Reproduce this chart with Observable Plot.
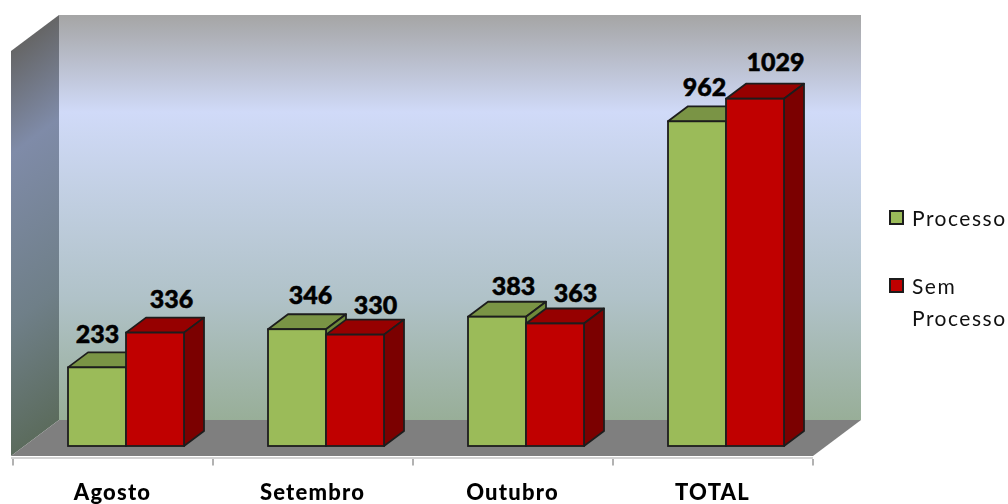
<!DOCTYPE html>
<html>
<head>
<meta charset="utf-8">
<script src="https://cdn.jsdelivr.net/npm/d3@7"></script>
<script src="https://cdn.jsdelivr.net/npm/@observablehq/plot@0.6"></script>
<style>
html,body{margin:0;padding:0;background:#fff;width:1008px;height:504px;overflow:hidden}
#chart{position:relative;width:1008px;height:504px}
#chart svg{display:block;filter:blur(.5px)}
#legend{position:absolute;left:888px;top:202px;font:21px/32px Lato,sans-serif;letter-spacing:1.5px;color:#111;filter:blur(.35px)}
.item{position:relative;padding-left:24px;margin-bottom:36px}
.sw{position:absolute;left:1px;top:8px;width:11px;height:11px;border:2px solid #1c1c1c}
</style>
</head>
<body>
<div id="chart"></div>
<script>
const months = ["Agosto", "Setembro", "Outubro", "TOTAL"];
const seriesNames = ["Processo", "Sem Processo"];
const processo = [233, 346, 383, 962];
const semProcesso = [336, 330, 363, 1029];
const axisMax = 1200;
const labelNudgeProcesso = [[0, -25], [13, -26], [16, -22], [7, -26]];
const labelNudgeSem = [[16, -25], [20, -21], [20, -22], [20, -28]];

const colors = {
  "Processo": {front: "#9bbb59", top: "#7a9445", side: "#6f8a3a"},
  "Sem Processo": {front: "#c00000", top: "#960000", side: "#7b0000"}
};
const rows = months.flatMap((month, i) => [
  {month, series: seriesNames[0], value: processo[i], nudge: labelNudgeProcesso[i]},
  {month, series: seriesNames[1], value: semProcesso[i], nudge: labelNudgeSem[i]}
]);

const SVGNS = "http://www.w3.org/2000/svg";
function el(name, attrs) {
  const n = document.createElementNS(SVGNS, name);
  for (const k in attrs) n.setAttribute(k, attrs[k]);
  return n;
}
function poly(points, fill, extra) {
  return el("polygon", {points: points.map(p => p.join(",")).join(" "), fill, ...(extra || {})});
}

// Room: side wall, back wall, floor and the separators, placed from the scales
function room(index, scales, values, dimensions, context, next) {
  const g = el("g", {});
  const y = scales.y;
  const x0 = dimensions.marginLeft;
  const x1 = dimensions.width - dimensions.marginRight;
  const y0 = y(0), yT = y(axisMax);
  const defs = el("defs", {});
  const grad = (id, a, stops) => {
    const lg = el("linearGradient", {id, gradientUnits: "userSpaceOnUse", ...a});
    stops.forEach(([o, c]) => lg.appendChild(el("stop", {offset: o, "stop-color": c})));
    defs.appendChild(lg);
  };
  grad("wallBack", {x1: 0, y1: yT - 26, x2: 0, y2: y0 - 26}, [
    [0, "#a5a5a5"], [0.24, "#d0daf8"], [0.7, "#b0c2c8"], [1, "#98ae98"]]);
  grad("wallSide", {x1: 34, y1: 32, x2: 228, y2: 291}, [
    [0, "#656565"], [0.26, "#7f8ba8"], [0.68, "#6f7f88"], [1, "#5c6c5e"]]);
  g.appendChild(defs);
  const bl = x0 + 46, br = x1 + 48, fl = x0 - 2;
  g.appendChild(poly([[bl, yT - 26], [br, yT - 26], [br, y0 - 26], [bl, y0 - 26]], "url(#wallBack)"));
  g.appendChild(poly([[fl, yT + 10], [bl, yT - 26], [bl, y0 - 26], [fl, y0 + 10]], "url(#wallSide)"));
  g.appendChild(poly([[fl, y0 + 10], [x1, y0 + 10], [br, y0 - 26], [bl, y0 - 26]], "#7f7f7f"));
  g.appendChild(el("line", {x1: fl, x2: x1, y1: y0 + 12, y2: y0 + 12, stroke: "#c4c4c4", "stroke-width": 1.5}));
  const step = (x1 - x0) / months.length;
  months.concat("").forEach((m, i) => {
    const tx = x0 + i * step;
    g.appendChild(el("line", {x1: tx, x2: tx, y1: y0 + 13, y2: y0 + 19.5, stroke: "#7f7f7f", "stroke-width": 1.2}));
  });
  return g;
}

// Adds the top and side faces to each front rectangle the bar mark produced
function extrude(index, scales, values, dimensions, context, next) {
  const g = next(index, scales, values, dimensions, context);
  const dx = 20, dy = -15;
  const s = {stroke: "#1d1d1d", "stroke-width": 1.8, "stroke-linejoin": "round"};
  g.querySelectorAll("rect").forEach(r => {
    const name = r.getAttribute("fill");
    const c = Object.values(colors).find(v => v.front === name);
    const x = +r.getAttribute("x"), w = +r.getAttribute("width");
    const t = +r.getAttribute("y"), b = t + +r.getAttribute("height");
    const top = poly([[x, t], [x + dx, t + dy], [x + w + dx, t + dy], [x + w, t]], c.top, s);
    const side = poly([[x + w, t], [x + w + dx, t + dy], [x + w + dx, b + dy], [x + w, b]], c.side, s);
    r.before(top, side);
  });
  return g;
}

const labelMarks = rows.map(r => Plot.text([r], {
  fx: "month", x: "series", y: "value", text: d => String(d.value),
  dx: r.nudge[0], dy: r.nudge[1],
  fontFamily: "Lato, sans-serif", fontWeight: 900, fontSize: 25, fill: "#000",
  lineAnchor: "bottom", stroke: "#000", strokeWidth: 0.5
}));

const chart = Plot.plot({
  width: 1008, height: 504,
  marginLeft: 12, marginRight: 194, marginTop: 41, marginBottom: 58,
  style: {background: "#fff", overflow: "visible"},
  fx: {domain: months, padding: 0, label: null},
  x: {domain: seriesNames, range: [67, 183.5], padding: 0, axis: null},
  y: {domain: [0, axisMax], axis: null},
  marks: [
    Plot.frame({facet: "super", stroke: "none", render: room}),
    ...seriesNames.map(name => Plot.barY(rows.filter(r => r.series === name), {
      fx: "month", x: "series", y: "value",
      fill: d => colors[d.series].front,
      stroke: "#1d1d1d", strokeWidth: 1.8,
      render: extrude
    })),
    ...labelMarks,
    Plot.axisFx({
      anchor: "bottom", tickSize: 0, tickPadding: 53, label: null, dx: -1,
      fontFamily: "Lato, sans-serif", fontWeight: 900, fontSize: 22, fill: "#000",
      lineAnchor: "bottom"
    })
  ]
});
chart.querySelectorAll("text").forEach(t => {
  if (months.includes(t.textContent.trim())) t.style.letterSpacing = "1.2px";
});
document.getElementById("chart").appendChild(chart);

const legend = document.createElement("div");
legend.id = "legend";
seriesNames.forEach(name => {
  const item = document.createElement("div");
  item.className = "item";
  const sw = document.createElement("span");
  sw.className = "sw";
  sw.style.background = colors[name].front;
  item.appendChild(sw);
  name.split(" ").forEach((w, i) => {
    if (i) item.appendChild(document.createElement("br"));
    item.appendChild(document.createTextNode(w));
  });
  legend.appendChild(item);
});
document.getElementById("chart").appendChild(legend);
</script>
</body>
</html>
